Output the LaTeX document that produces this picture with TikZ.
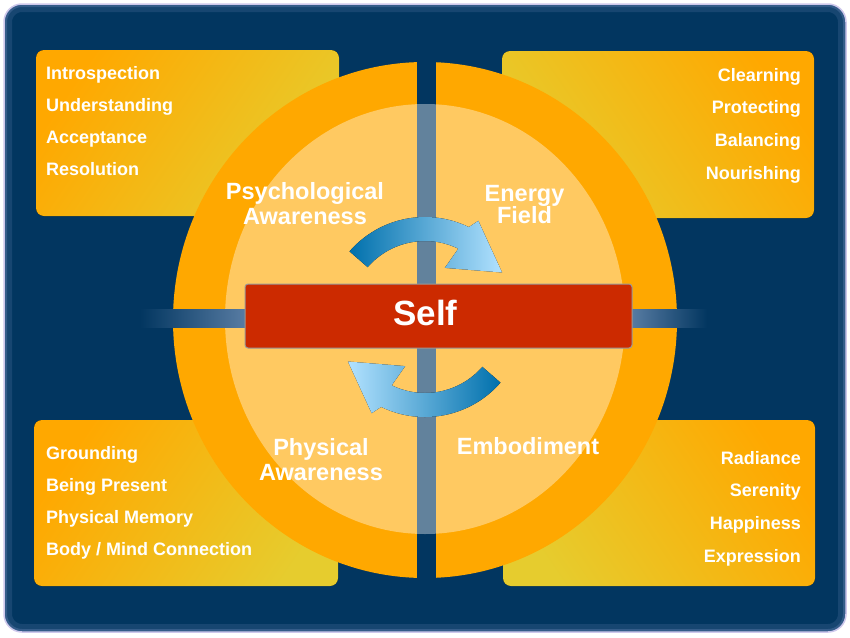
\documentclass[tikz,border=0pt]{standalone}
\usepackage{fontspec}
\setmainfont{Liberation Sans}
\definecolor{navy}{RGB}{2,54,96}
\definecolor{frameline}{RGB}{206,200,236}
\definecolor{edgeglow}{RGB}{120,145,195}
\definecolor{ringorange}{RGB}{255,168,0}
\definecolor{boxorange}{RGB}{255,168,0}
\definecolor{boxyellow}{RGB}{230,204,46}
\definecolor{selfred}{RGB}{204,42,0}
\definecolor{glowblue}{RGB}{88,124,163}
\definecolor{arrdark}{RGB}{0,112,172}
\definecolor{arrmid}{RGB}{0,174,239}
\definecolor{arrlight}{RGB}{178,226,255}
\begin{document}
\begin{tikzpicture}[x=1pt,y=-1pt,line join=round,
	cornerbox/.style={rounded corners=8pt},
	boxitem/.style={text=white,inner sep=0pt,font=\bfseries\fontsize{18}{20}\selectfont},
	quadtext/.style={text=white,inner sep=0pt,align=center,font=\bfseries\fontsize{23.5}{24}\selectfont}]
	\useasboundingbox (0,0) rectangle (850,637);
	\fill[white] (0,0) rectangle (850,637);
	% frame
	\begin{scope}
		\clip[rounded corners=18pt] (4,4) rectangle (846,632);
		\fill[navy] (0,0) rectangle (850,637);
		\draw[edgeglow,line width=16pt,opacity=.18,rounded corners=18pt] (4,4) rectangle (846,632);
		\draw[edgeglow,line width=6pt,opacity=.3,rounded corners=18pt] (4,4) rectangle (846,632);
	\end{scope}
	\draw[frameline,line width=1.5pt,rounded corners=18pt] (4,4) rectangle (846,632);
	% corner boxes
	\fill[cornerbox,top color=boxorange,bottom color=boxyellow,shading angle=56] (36,50) rectangle (339,216);
	\fill[cornerbox,top color=boxorange,bottom color=boxyellow,shading angle=-56] (502,51) rectangle (814,218);
	\fill[cornerbox,top color=boxorange,bottom color=boxyellow,shading angle=56] (34,420) rectangle (338,586);
	\fill[cornerbox,top color=boxorange,bottom color=boxyellow,shading angle=-56] (503,420) rectangle (815,586);
	% quarters
	\fill[ringorange] (425,320) ellipse [x radius=252,y radius=258];
	\fill[navy] (417,50) rectangle (436,592);
	\fill[navy] (160,310) rectangle (690,328);
	\fill[white,opacity=.38] (425,319) ellipse [x radius=200,y radius=215];
	% glow bars
	\fill[left color=navy,right color=glowblue] (140,309) rectangle (246,327);
	\fill[left color=glowblue,right color=navy] (631,309) rectangle (707,327);
	% self
	\draw[fill=selfred,draw=gray!80,line width=1pt,rounded corners=3pt] (245,284) rectangle (632,348);
	\node[text=white,inner sep=0pt,anchor=base,font=\bfseries\fontsize{35}{36}\selectfont] (self) at (425.5,325) {Self};
	% arrows
	\begin{scope}[shift={(425,317)}]
		\fill[left color=arrdark,middle color=arrmid,right color=arrlight]
		(-139:100) arc[start angle=-139,end angle=-64,radius=100]
		-- (-61:110) -- (-30:89) -- (-68:53) -- (-64:76)
		arc[start angle=-64,end angle=-139,radius=76] -- cycle;
		\fill[left color=arrlight,middle color=arrmid,right color=arrdark]
		(41:100) arc[start angle=41,end angle=116,radius=100]
		-- (119:110) -- (150:89) -- (112:53) -- (116:76)
		arc[start angle=116,end angle=41,radius=76] -- cycle;
	\end{scope}
	% quadrant names
	\node[quadtext] (psych) at (305,204) {Psychological\\[1pt]Awareness};
	\node[quadtext] (energy) at (524.5,205) {Energy\\[-2pt]Field};
	\node[quadtext] (phys) at (321,460) {Physical\\[1pt]Awareness};
	\node[quadtext,anchor=base] (embod) at (528,454) {Embodiment};
	% box items
	\foreach \t [count=\i] in {Introspection,Understanding,Acceptance,Resolution}
		\node[boxitem,anchor=base west] (tl\i) at (46,{79+32.3*(\i-1)}) {\t};
	\foreach \t [count=\i] in {Clearning,Protecting,Balancing,Nourishing}
		\node[boxitem,anchor=base east] (tr\i) at (801,{81+32.7*(\i-1)}) {\t};
	\foreach \t [count=\i] in {Grounding,Being Present,Physical Memory,Body / Mind Connection}
		\node[boxitem,anchor=base west] (bl\i) at (46,{459+32*(\i-1)}) {\t};
	\foreach \t [count=\i] in {Radiance,Serenity,Happiness,Expression}
		\node[boxitem,anchor=base east] (br\i) at (801,{464+32.7*(\i-1)}) {\t};
\end{tikzpicture}
\end{document}
